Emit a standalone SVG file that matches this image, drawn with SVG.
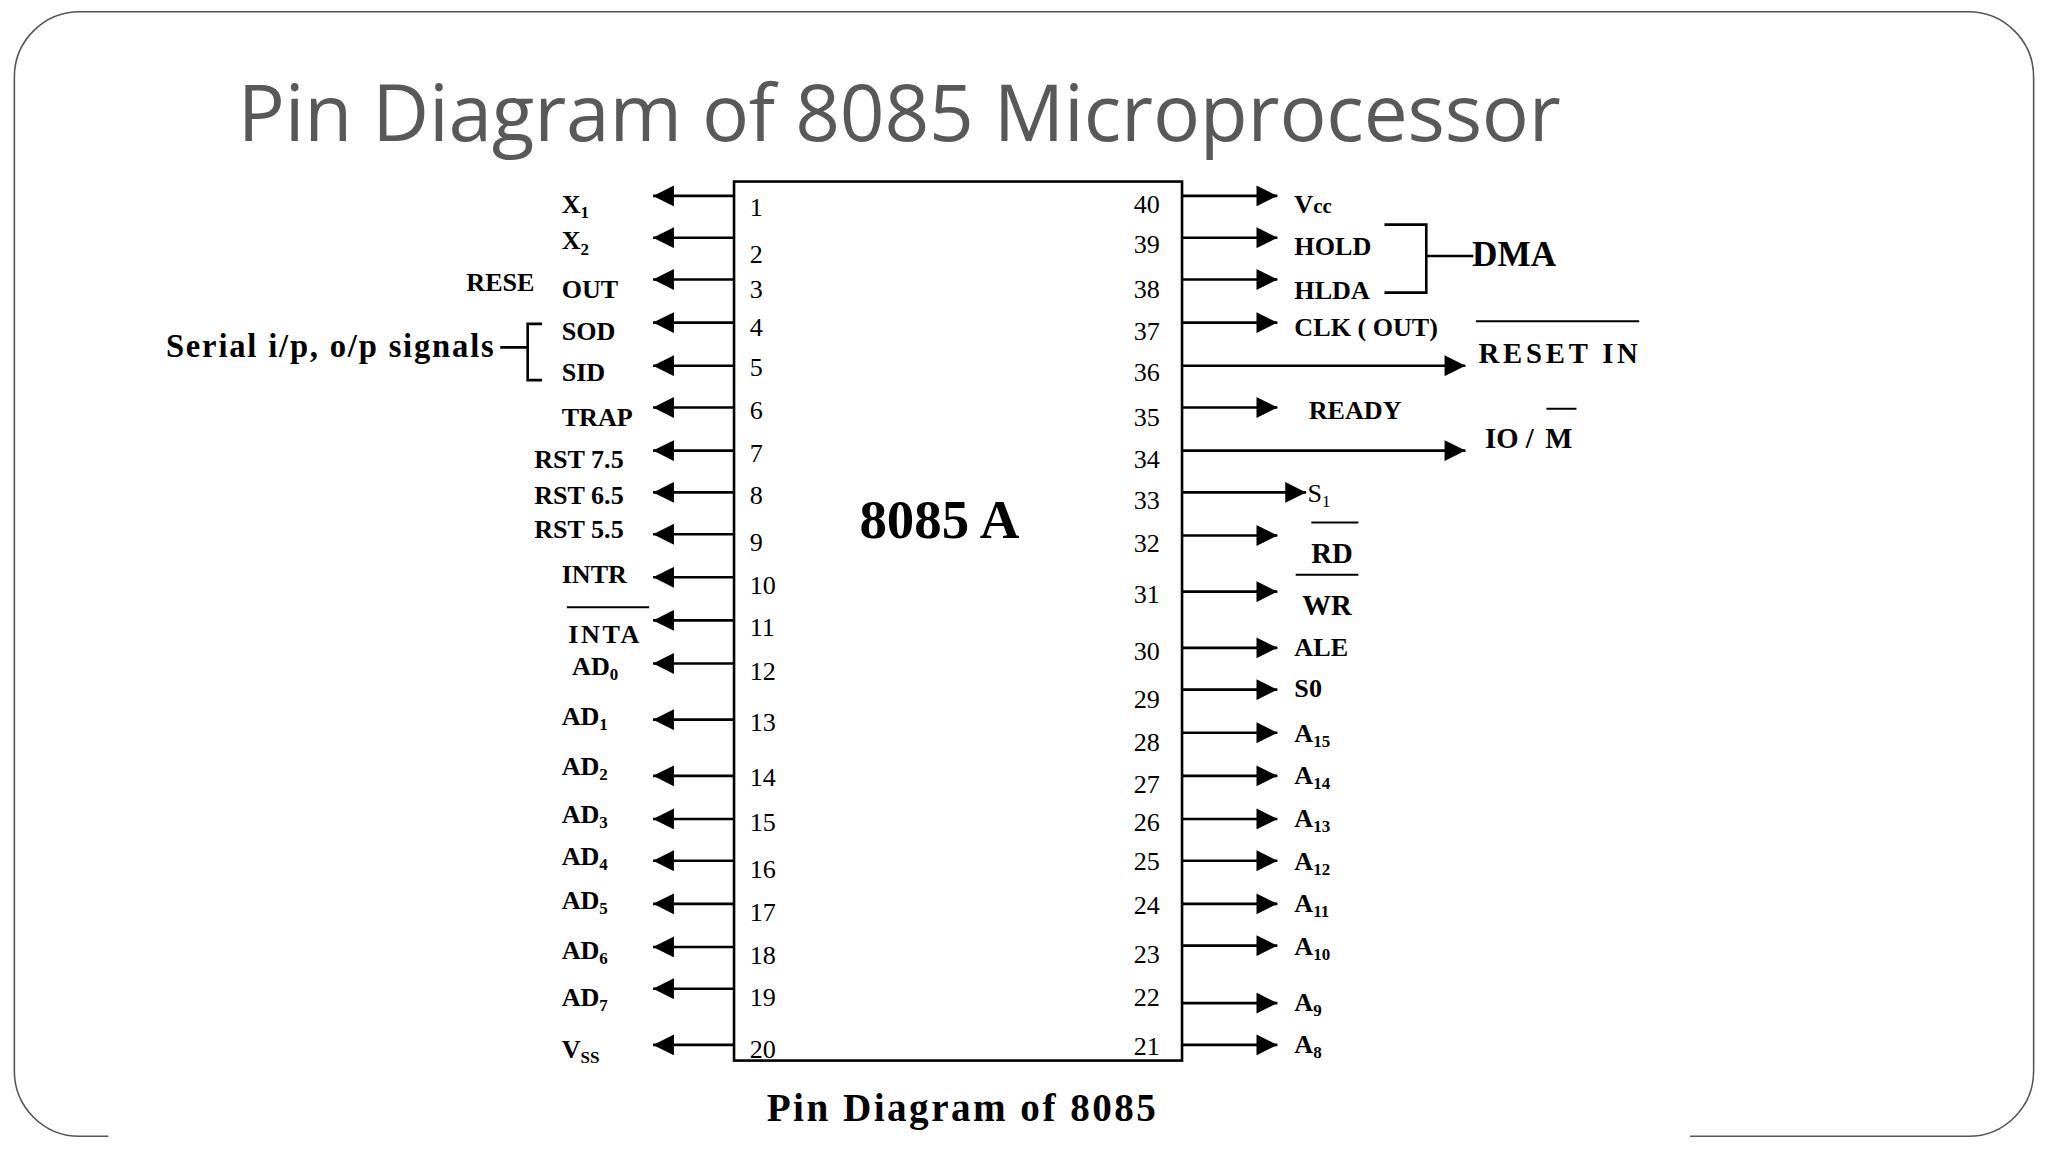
<svg xmlns="http://www.w3.org/2000/svg" width="2048" height="1152" viewBox="0 0 2048 1152">
<defs>
<style>
.t{font-family:"Liberation Serif",serif;font-weight:bold;font-size:20px;fill:#000}
.n{font-family:"Liberation Serif",serif;font-size:20px;fill:#000}
.s{font-size:13px}
.w{stroke:#000;stroke-width:2;fill:none}
</style>
<marker id="a" viewBox="0 0 10 10" refX="10" refY="5" markerWidth="18" markerHeight="16" markerUnits="userSpaceOnUse" orient="auto"><path d="M0,0L10,5L0,10z" fill="#000"/></marker>
</defs>
<rect width="2048" height="1152" fill="#fff"/>
<g transform="scale(1.30612)">
<rect id="frame" x="11" y="9" width="1546" height="861" rx="50" fill="none" stroke="#555" stroke-width="1.2"/>
<rect x="83" y="860" width="1211" height="20" fill="#fff"/>
<text x="182" y="108" font-family="Open Sans,sans-serif" font-size="60" fill="#595959" textLength="1013">Pin Diagram of 8085 Microprocessor</text>
<g id="chip">
<rect x="562" y="139" width="343" height="673" class="w" stroke-width="2.5"/>
<text x="658" y="412" font-family="Liberation Serif,serif" font-weight="bold" font-size="42">8085 A</text>
</g>
<g id="connectors" class="w">
<line x1="562" y1="150" x2="500" y2="150" marker-end="url(#a)"/><line x1="562" y1="182" x2="500" y2="182" marker-end="url(#a)"/><line x1="562" y1="214" x2="500" y2="214" marker-end="url(#a)"/><line x1="562" y1="247" x2="500" y2="247" marker-end="url(#a)"/><line x1="562" y1="280" x2="500" y2="280" marker-end="url(#a)"/><line x1="562" y1="312" x2="500" y2="312" marker-end="url(#a)"/><line x1="562" y1="345" x2="500" y2="345" marker-end="url(#a)"/><line x1="562" y1="377" x2="500" y2="377" marker-end="url(#a)"/><line x1="562" y1="409" x2="500" y2="409" marker-end="url(#a)"/><line x1="562" y1="442" x2="500" y2="442" marker-end="url(#a)"/><line x1="562" y1="475" x2="500" y2="475" marker-end="url(#a)"/><line x1="562" y1="508" x2="500" y2="508" marker-end="url(#a)"/><line x1="562" y1="551" x2="500" y2="551" marker-end="url(#a)"/><line x1="562" y1="594" x2="500" y2="594" marker-end="url(#a)"/><line x1="562" y1="627" x2="500" y2="627" marker-end="url(#a)"/><line x1="562" y1="659" x2="500" y2="659" marker-end="url(#a)"/><line x1="562" y1="692" x2="500" y2="692" marker-end="url(#a)"/><line x1="562" y1="725" x2="500" y2="725" marker-end="url(#a)"/><line x1="562" y1="757" x2="500" y2="757" marker-end="url(#a)"/><line x1="562" y1="800" x2="500" y2="800" marker-end="url(#a)"/>
<line x1="905" y1="150" x2="978" y2="150" marker-end="url(#a)"/><line x1="905" y1="182" x2="978" y2="182" marker-end="url(#a)"/><line x1="905" y1="214" x2="978" y2="214" marker-end="url(#a)"/><line x1="905" y1="247" x2="978" y2="247" marker-end="url(#a)"/><line x1="905" y1="280" x2="1122" y2="280" marker-end="url(#a)"/><line x1="905" y1="312" x2="978" y2="312" marker-end="url(#a)"/><line x1="905" y1="345" x2="1122" y2="345" marker-end="url(#a)"/><line x1="905" y1="377" x2="1000" y2="377" marker-end="url(#a)"/><line x1="905" y1="410" x2="978" y2="410" marker-end="url(#a)"/><line x1="905" y1="453" x2="978" y2="453" marker-end="url(#a)"/><line x1="905" y1="496" x2="978" y2="496" marker-end="url(#a)"/><line x1="905" y1="528" x2="978" y2="528" marker-end="url(#a)"/><line x1="905" y1="561" x2="978" y2="561" marker-end="url(#a)"/><line x1="905" y1="594" x2="978" y2="594" marker-end="url(#a)"/><line x1="905" y1="627" x2="978" y2="627" marker-end="url(#a)"/><line x1="905" y1="659" x2="978" y2="659" marker-end="url(#a)"/><line x1="905" y1="692" x2="978" y2="692" marker-end="url(#a)"/><line x1="905" y1="724" x2="978" y2="724" marker-end="url(#a)"/><line x1="905" y1="768" x2="978" y2="768" marker-end="url(#a)"/><line x1="905" y1="800" x2="978" y2="800" marker-end="url(#a)"/>
</g>
<g id="brackets" class="w">
<path d="M383,266H404M415,248H404V291H415"/>
<path d="M1060,172H1092V224H1060M1092,196H1128"/>
<path d="M434,465H497M1130,246H1255M1184,313H1207M1004,400H1040M992,440H1040" stroke-width="1.5"/>
</g>
<g id="lnum" class="n">
<text x="574" y="165">1</text><text x="574" y="201">2</text><text x="574" y="228">3</text><text x="574" y="257">4</text><text x="574" y="288">5</text><text x="574" y="321">6</text><text x="574" y="354">7</text><text x="574" y="386">8</text><text x="574" y="422">9</text><text x="574" y="455">10</text><text x="574" y="487">11</text><text x="574" y="521">12</text><text x="574" y="560">13</text><text x="574" y="602">14</text><text x="574" y="636">15</text><text x="574" y="672">16</text><text x="574" y="705">17</text><text x="574" y="738">18</text><text x="574" y="770">19</text><text x="574" y="810">20</text>
</g>
<g id="rnum" class="n" text-anchor="end">
<text x="888" y="163">40</text><text x="888" y="194">39</text><text x="888" y="228">38</text><text x="888" y="260">37</text><text x="888" y="292">36</text><text x="888" y="326">35</text><text x="888" y="358">34</text><text x="888" y="390">33</text><text x="888" y="423">32</text><text x="888" y="462">31</text><text x="888" y="505">30</text><text x="888" y="542">29</text><text x="888" y="575">28</text><text x="888" y="607">27</text><text x="888" y="636">26</text><text x="888" y="666">25</text><text x="888" y="700">24</text><text x="888" y="737">23</text><text x="888" y="770">22</text><text x="888" y="808">21</text>
</g>
<g id="llabels" class="t">
<text x="430" y="163">X<tspan class="s" dy="4">1</tspan></text>
<text x="430" y="191">X<tspan class="s" dy="4">2</tspan></text>
<text x="357" y="223">RESE</text><text x="430" y="228">OUT</text>
<text x="430" y="260">SOD</text><text x="430" y="292">SID</text>
<text x="127" y="273" style="font-size:25px" textLength="251">Serial i/p, o/p signals</text>
<text x="430" y="326">TRAP</text>
<text x="409" y="358">RST 7.5</text><text x="409" y="386">RST 6.5</text><text x="409" y="412">RST 5.5</text>
<text x="430" y="446">INTR</text><text x="435" y="492" letter-spacing="2">INTA</text>
<text x="438" y="517">AD<tspan class="s" dy="4">0</tspan></text>
<text x="430" y="555">AD<tspan class="s" dy="4">1</tspan></text>
<text x="430" y="593">AD<tspan class="s" dy="4">2</tspan></text>
<text x="430" y="630">AD<tspan class="s" dy="4">3</tspan></text>
<text x="430" y="662">AD<tspan class="s" dy="4">4</tspan></text>
<text x="430" y="696">AD<tspan class="s" dy="4">5</tspan></text>
<text x="430" y="734">AD<tspan class="s" dy="4">6</tspan></text>
<text x="430" y="770">AD<tspan class="s" dy="4">7</tspan></text>
<text x="430" y="810">V<tspan class="s" dy="4">SS</tspan></text>
</g>
<g id="rlabels" class="t">
<text x="991" y="163">V<tspan style="font-size:16px">cc</tspan></text>
<text x="991" y="195">HOLD</text><text x="991" y="229">HLDA</text>
<text x="1127" y="204" style="font-size:27px">DMA</text>
<text x="991" y="257">CLK ( OUT)</text>
<text x="1132" y="278" style="font-size:22px" textLength="122">RESET  IN</text>
<text x="1002" y="321">READY</text>
<text x="1137" y="343" style="font-size:22px">IO /</text>
<text x="1183" y="343" style="font-size:22px">M</text>
<text x="1001" y="384" font-weight="normal">S<tspan class="s" dy="4">1</tspan></text>
<text x="1004" y="431" style="font-size:22px">RD</text>
<text x="997" y="471" style="font-size:22px">WR</text>
<text x="991" y="502">ALE</text><text x="991" y="534">S0</text>
<text x="991" y="568">A<tspan class="s" dy="4">15</tspan></text>
<text x="991" y="600">A<tspan class="s" dy="4">14</tspan></text>
<text x="991" y="633">A<tspan class="s" dy="4">13</tspan></text>
<text x="991" y="666">A<tspan class="s" dy="4">12</tspan></text>
<text x="991" y="698">A<tspan class="s" dy="4">11</tspan></text>
<text x="991" y="731">A<tspan class="s" dy="4">10</tspan></text>
<text x="991" y="774">A<tspan class="s" dy="4">9</tspan></text>
<text x="991" y="806">A<tspan class="s" dy="4">8</tspan></text>
</g>
<text x="587" y="858" class="t" style="font-size:30px" textLength="298">Pin Diagram of 8085</text>
</g>
</svg>
